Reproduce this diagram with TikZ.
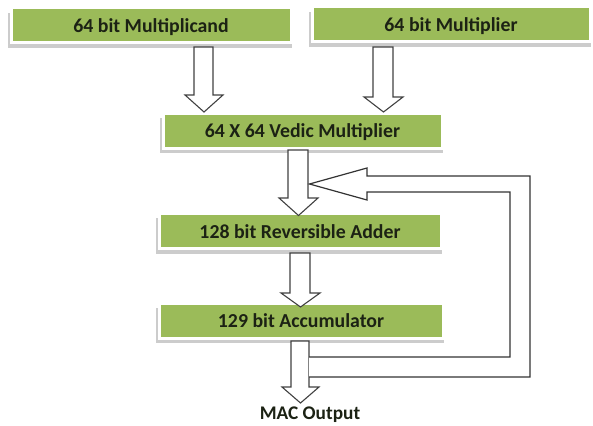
\documentclass[tikz,border=0pt]{standalone}
\usepackage{fontspec}
\setmainfont{Carlito}
\usetikzlibrary{shadows}
\definecolor{boxgreen}{RGB}{155,187,89}
\definecolor{boxtext}{RGB}{28,34,20}
\definecolor{arrowline}{RGB}{65,65,65}
\tikzset{
  greenbox/.style={fill=boxgreen, draw=white, line width=3pt,
    minimum height=35pt, inner sep=0pt, text height=14.5pt, text depth=0pt,
    text=boxtext, font=\fontsize{19.8}{22}\selectfont\bfseries,
    drop shadow={shadow xshift=-1pt, shadow yshift=-5pt, shadow scale=1.015,
      fill=black!50, opacity=0.4}},
  blockarrow/.style={draw=arrowline, fill=white, line width=1.1pt, line join=miter},
  feedline/.style={draw=black!80, fill=white, line width=1.2pt, line join=miter},
  outlabel/.style={text=boxtext, font=\fontsize{19.3}{22}\selectfont\bfseries, inner sep=0pt}
}
\begin{document}
\begin{tikzpicture}[x=1pt,y=-1pt]
\useasboundingbox (0,0) rectangle (593,425);
\fill[white] (0,0) rectangle (593,425);

% boxes
\node[greenbox, minimum width=280pt] (mcand) at (151,25.5) {64 bit Multiplicand};
\node[greenbox, minimum width=278pt] (mplier) at (451,24.5) {64 bit Multiplier};
\node[greenbox, minimum width=279pt] (vedic) at (302.5,130.5) {64 X 64 Vedic Multiplier};
\node[greenbox, minimum width=282pt] (adder) at (300,231) {128 bit Reversible Adder};
\node[greenbox, minimum width=284pt] (accum) at (301,320.5) {129 bit Accumulator};
\node[outlabel, anchor=base] (mac) at (310,419) {MAC Output};

% hollow block arrows (shaft top below the source, tip on the target)
\path[blockarrow] (194,47) -- (194,95) -- (185,95) -- (204,112) -- (223,95) -- (213,95) -- (213,47) -- cycle;
\path[blockarrow] (373,47) -- (373,97) -- (364,97) -- (383.5,112) -- (403,97) -- (393,97) -- (393,47) -- cycle;
\path[blockarrow] (288,150) -- (288,198) -- (279,198) -- (298.5,215.5) -- (318,198) -- (308,198) -- (308,150) -- cycle;
\path[blockarrow] (290,253) -- (290,293) -- (281,293) -- (300.5,307) -- (320,293) -- (310,293) -- (310,253) -- cycle;
\path[blockarrow] (291,341) -- (291,387) -- (282,387) -- (300.5,403) -- (319,387) -- (309,387) -- (309,341) -- cycle;

% feedback path from accumulator output back to adder input
\path[feedline] (309,357) -- (510,357) -- (510,192) -- (367,192) -- (367,200)
  -- (309.5,184) -- (367,168) -- (367,176) -- (530,176) -- (530,377) -- (309,377);
\end{tikzpicture}
\end{document}
